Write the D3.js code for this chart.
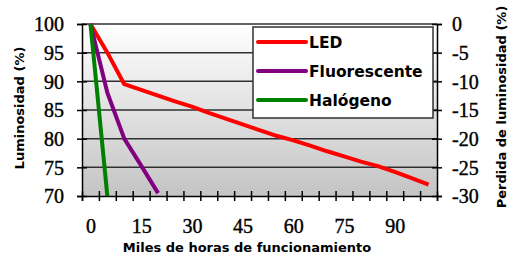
<!DOCTYPE html>
<html>
<head>
<meta charset="utf-8">
<script src="https://cdn.jsdelivr.net/npm/d3@7"></script>
<style>
  body { margin: 0; background: #fff; }
  svg { display: block; }
</style>
</head>
<body>
<svg id="chart" width="508" height="254"></svg>
<script>
(function () {
    'use strict';

    // miles de horas (categorias del eje X)
    var horas = [0, 5, 10, 15, 20, 25, 30, 35, 40, 45, 50, 55, 60, 65, 70, 75, 80, 85, 90, 95, 100];
    var led = [100, 95, 89.5, 88.5, 87.5, 86.5, 85.6, 84.5, 83.5, 82.5, 81.5, 80.5, 79.7, 78.8, 77.8, 76.9, 76.0, 75.2, 74.2, 73.1, 72];
    var fluorescente = [100, 88, 80, 75.3, 70.5];
    var halogeno = [100, 70];
    var xLabels = [0, 15, 30, 45, 60, 75, 90];
    var yTicks = [70, 75, 80, 85, 90, 95, 100];
    var yRightTicks = [-30, -25, -20, -15, -10, -5, 0];

    var series = [
        { name: "LED", values: led, colour: "#ff0000" },
        { name: "Fluorescente", values: fluorescente, colour: "#800080" },
        { name: "Halógeno", values: halogeno, colour: "#008000" }
    ];

    var left = 82, right = 437, top = 24, bottom = 196;

    var svg = d3.select("#chart");

    var x = d3.scaleLinear().domain([-2.5, 102.5]).range([left, right]);
    var y = d3.scaleLinear().domain([70, 100]).range([bottom, top]);
    var yR = d3.scaleLinear().domain([-30, 0]).range([bottom, top]);

    // fondo con degradado
    var grad = svg.append("defs").append("linearGradient")
        .attr("id", "bg")
        .attr("x1", 0).attr("y1", 0).attr("x2", 0).attr("y2", 1);
    grad.append("stop").attr("offset", "0%").attr("stop-color", "#ffffff");
    grad.append("stop").attr("offset", "100%").attr("stop-color", "#c4c4c4");

    svg.append("rect")
        .attr("x", left).attr("y", top)
        .attr("width", right - left).attr("height", bottom - top)
        .attr("fill", "url(#bg)");

    // lineas de division
    svg.append("g").selectAll("line")
        .data(yTicks.slice(1))
        .enter()
        .append("line")
        .attr("x1", left).attr("x2", right)
        .attr("y1", function (d) { return y(d); })
        .attr("y2", function (d) { return y(d); })
        .attr("stroke", "#303030")
        .attr("stroke-width", 1.5);

    // series
    var line = d3.line()
        .x(function (d, i) { return x(horas[i]); })
        .y(function (d) { return y(d); });

    svg.append("g").selectAll("path")
        .data(series)
        .enter()
        .append("path")
        .attr("d", function (d) { return line(d.values); })
        .attr("fill", "none")
        .attr("stroke", function (d) { return d.colour; })
        .attr("stroke-width", 4)
        .attr("stroke-linejoin", "round");

    // ejes
    var gLeft = svg.append("g")
        .attr("transform", "translate(" + left + ",0)")
        .call(d3.axisLeft(y).tickValues(yTicks).tickSize(5).tickPadding(13));

    var gRight = svg.append("g")
        .attr("transform", "translate(" + right + ",0)")
        .call(d3.axisRight(yR).tickValues(yRightTicks).tickSize(5).tickPadding(10)
            .tickFormat(function (d) { return String(d); }));

    var bounds = horas.map(function (h) { return h - 2.5; }).concat([102.5]);
    var gBottom = svg.append("g")
        .attr("transform", "translate(0," + bottom + ")")
        .call(d3.axisBottom(x).tickValues(bounds).tickSize(5).tickFormat(""));

    var gLabels = svg.append("g")
        .attr("transform", "translate(0," + bottom + ")")
        .call(d3.axisBottom(x).tickValues(xLabels).tickSize(0).tickPadding(23));
    gLabels.select(".domain").remove();

    [gLeft, gRight].forEach(function (g) {
        g.selectAll(".tick line").attr("x1", -5).attr("x2", 5);
    });
    gBottom.selectAll(".tick line").attr("y1", -5).attr("y2", 5);

    [gLeft, gRight, gBottom, gLabels].forEach(function (g) {
        g.select(".domain").attr("stroke", "#000").attr("stroke-width", 1.5);
        g.selectAll(".tick line").attr("stroke", "#000").attr("stroke-width", 1.5);
        g.selectAll("text")
            .attr("font-family", "'Liberation Serif', serif")
            .attr("font-size", 20)
            .attr("fill", "#000")
            .attr("stroke", "#000")
            .attr("stroke-width", 0.4);
    });
    gLeft.selectAll("text").attr("dy", "0.34em");
    gRight.selectAll("text").attr("dy", "0.34em");

    // titulos
    var titleFont = "'DejaVu Sans', Verdana, sans-serif";
    svg.append("text")
        .attr("transform", "translate(24,108) rotate(-90)")
        .attr("text-anchor", "middle")
        .attr("font-family", titleFont)
        .attr("font-weight", "bold")
        .attr("font-size", 13)
        .text("Luminosidad (%)");

    svg.append("text")
        .attr("transform", "translate(506,107) rotate(-90)")
        .attr("text-anchor", "middle")
        .attr("font-family", titleFont)
        .attr("font-weight", "bold")
        .attr("font-size", 13)
        .text("Perdida de luminosidad (%)");

    svg.append("text")
        .attr("x", 247).attr("y", 252)
        .attr("text-anchor", "middle")
        .attr("font-family", titleFont)
        .attr("font-weight", "bold")
        .attr("font-size", 13)
        .text("Miles de horas de funcionamiento");

    // leyenda
    var legend = svg.append("g").attr("transform", "translate(253,27)");
    legend.append("rect")
        .attr("width", 180).attr("height", 91)
        .attr("fill", "#fff")
        .attr("stroke", "#303030")
        .attr("stroke-width", 1.5);

    var items = legend.selectAll("g")
        .data(series)
        .enter()
        .append("g")
        .attr("transform", function (d, i) { return "translate(0," + (15 + i * 29) + ")"; });

    items.append("line")
        .attr("x1", 5).attr("x2", 53)
        .attr("stroke", function (d) { return d.colour; })
        .attr("stroke-width", 4)
        .attr("stroke-linecap", "round");

    items.append("text")
        .attr("x", 56).attr("y", 6)
        .attr("font-family", titleFont)
        .attr("font-weight", "bold")
        .attr("font-size", 15.5)
        .text(function (d) { return d.name; });
})();
</script>
</body>
</html>
